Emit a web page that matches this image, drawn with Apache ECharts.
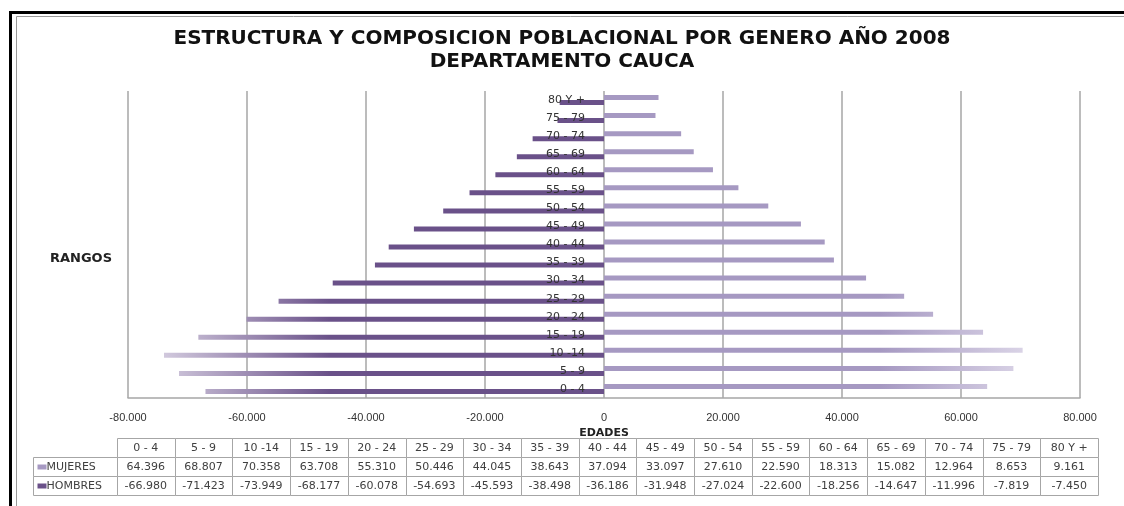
<!DOCTYPE html>
<html>
<head>
<meta charset="utf-8">
<script src="https://cdn.jsdelivr.net/npm/echarts@6/dist/echarts.min.js"></script>
<style>
  html, body { margin: 0; padding: 0; background: #fff; }
  #chart { width: 1124px; height: 506px; }
</style>
</head>
<body>
<div id="chart"></div>
<script>
// rangos de edad, de abajo hacia arriba
var rangos = ['0 - 4', '5 - 9', '10 -14', '15 - 19', '20 - 24', '25 - 29', '30 - 34', '35 - 39',
  '40 - 44', '45 - 49', '50 - 54', '55 - 59', '60 - 64', '65 - 69', '70 - 74', '75 - 79', '80 Y +']
var mujeres = [64396, 68807, 70358, 63708, 55310, 50446, 44045, 38643,
  37094, 33097, 27610, 22590, 18313, 15082, 12964, 8653, 9161]
var hombres = [-66980, -71423, -73949, -68177, -60078, -54693, -45593, -38498,
  -36186, -31948, -27024, -22600, -18256, -14647, -11996, -7819, -7450]
var filas = ['', 'MUJERES', 'HOMBRES']

var colorMuj = '#a699c2'
var colorHom = '#6a5189'

var gridLeft = 128
var gridRight = 44
// el eje de categorias va sobre el cero del eje de valores
var offsetCero = -((1124 - gridLeft - gridRight) / 2)

function fmt(v) {
  var s = String(Math.abs(v)).replace(/\B(?=(\d{3})+(?!\d))/g, '.')
  return (v < 0 ? '-' : '') + s
}

// celdas de la tabla: [columna, fila]
var celdas = []
for (var i = 0; i < rangos.length; i++) {
  for (var r = 0; r < 3; r++) celdas.push([i, r])
}

function textoCelda(i, r) {
  if (r === 0) return rangos[i]
  if (r === 1) return fmt(mujeres[i])
  return fmt(hombres[i])
}

var chart = echarts.init(document.getElementById('chart'))

chart.setOption({
  animation: false,
  backgroundColor: '#fff',
  title: {
    text: 'ESTRUCTURA Y COMPOSICION POBLACIONAL POR GENERO AÑO 2008\nDEPARTAMENTO CAUCA',
    left: 'center',
    top: 22,
    textStyle: {
      fontFamily: 'DejaVu Sans',
      fontWeight: 'bold',
      fontSize: 20,
      lineHeight: 23,
      color: '#111'
    }
  },
  graphic: [
    { type: 'rect', shape: { x: 10.5, y: 12.5, width: 1200, height: 600 },
      style: { fill: null, stroke: '#000', lineWidth: 3 }, silent: true },
    { type: 'rect', shape: { x: 16.5, y: 16.5, width: 1200, height: 600 },
      style: { fill: null, stroke: '#999', lineWidth: 1 }, silent: true },
    { type: 'text', left: 50, top: 252,
      style: { text: 'RANGOS', font: 'bold 13px "DejaVu Sans"', fill: '#222' } }
  ],
  grid: [
    { left: gridLeft, right: gridRight, top: 91, bottom: 108 },
    { left: 117, right: 26, top: 438, height: 57 }
  ],
  xAxis: [
    {
      type: 'value',
      gridIndex: 0,
      min: -80000,
      max: 80000,
      interval: 20000,
      name: 'EDADES',
      nameLocation: 'middle',
      nameGap: 25,
      nameTextStyle: { fontFamily: 'DejaVu Sans', fontWeight: 'bold', fontSize: 11, color: '#222' },
      axisLine: { show: true, lineStyle: { color: '#a6a6a6', width: 1.5 } },
      axisTick: { show: false },
      axisLabel: {
        margin: 14,
        fontFamily: 'Liberation Sans',
        fontSize: 11,
        color: '#333',
        formatter: fmt
      },
      splitLine: { show: true, lineStyle: { color: '#a6a6a6', width: 1.5 } }
    },
    {
      type: 'category',
      gridIndex: 1,
      data: rangos,
      show: false
    }
  ],
  yAxis: [
    {
      type: 'category',
      gridIndex: 0,
      data: rangos,
      position: 'left',
      offset: offsetCero,
      z: 5,
      axisLine: { show: false, onZero: false },
      axisTick: { show: false },
      axisLabel: {
        margin: 19,
        padding: [4, 0, 0, 0],
        fontFamily: 'DejaVu Sans',
        fontSize: 11,
        color: '#333'
      },
      splitLine: { show: false }
    },
    {
      type: 'category',
      gridIndex: 1,
      data: filas,
      inverse: true,
      show: false
    }
  ],
  series: [
    {
      name: 'MUJERES',
      type: 'bar',
      xAxisIndex: 0,
      yAxisIndex: 0,
      barWidth: 5,
      barGap: '0%',
      itemStyle: {
        color: {
          type: 'linear', x: 880, y: 0, x2: 1075, y2: 0, global: true,
          colorStops: [{ offset: 0, color: colorMuj }, { offset: 1, color: '#ece8f3' }]
        }
      },
      data: mujeres
    },
    {
      name: 'HOMBRES',
      type: 'bar',
      xAxisIndex: 0,
      yAxisIndex: 0,
      barWidth: 5,
      itemStyle: {
        color: {
          type: 'linear', x: 130, y: 0, x2: 330, y2: 0, global: true,
          colorStops: [{ offset: 0, color: '#e6e1ee' }, { offset: 1, color: colorHom }]
        }
      },
      data: hombres
    },
    {
      type: 'custom',
      xAxisIndex: 1,
      yAxisIndex: 1,
      silent: true,
      data: celdas,
      renderItem: function (params, api) {
        var i = api.value(0)
        var r = api.value(1)
        var c = api.coord([i, r])
        var s = api.size([1, 1])
        var x0 = Math.round(c[0] - s[0] / 2) + 0.5
        var y0 = Math.round(c[1] - s[1] / 2) + 0.5
        var w = Math.round(s[0])
        var h = Math.round(s[1])
        var hijos = [
          { type: 'rect', shape: { x: x0, y: y0, width: w, height: h },
            style: { fill: '#fff', stroke: '#a6a6a6', lineWidth: 1 } },
          { type: 'text', style: { text: textoCelda(i, r), x: c[0], y: c[1] + 1,
            align: 'center', verticalAlign: 'middle', font: '11px "DejaVu Sans"', fill: '#404040' } }
        ]
        if (i === 0 && r > 0) {
          var lw = 84
          hijos.push(
            { type: 'rect', shape: { x: x0 - lw, y: y0, width: lw, height: h },
              style: { fill: '#fff', stroke: '#a6a6a6', lineWidth: 1 } },
            { type: 'rect', shape: { x: x0 - lw + 4, y: c[1] - 2, width: 9, height: 5 },
              style: { fill: r === 1 ? colorMuj : colorHom } },
            { type: 'text', style: { text: filas[r], x: x0 - lw + 13, y: c[1] + 1,
              align: 'left', verticalAlign: 'middle', font: '11px "DejaVu Sans"', fill: '#404040' } }
          )
        }
        return { type: 'group', children: hijos }
      }
    }
  ]
})
</script>
</body>
</html>
